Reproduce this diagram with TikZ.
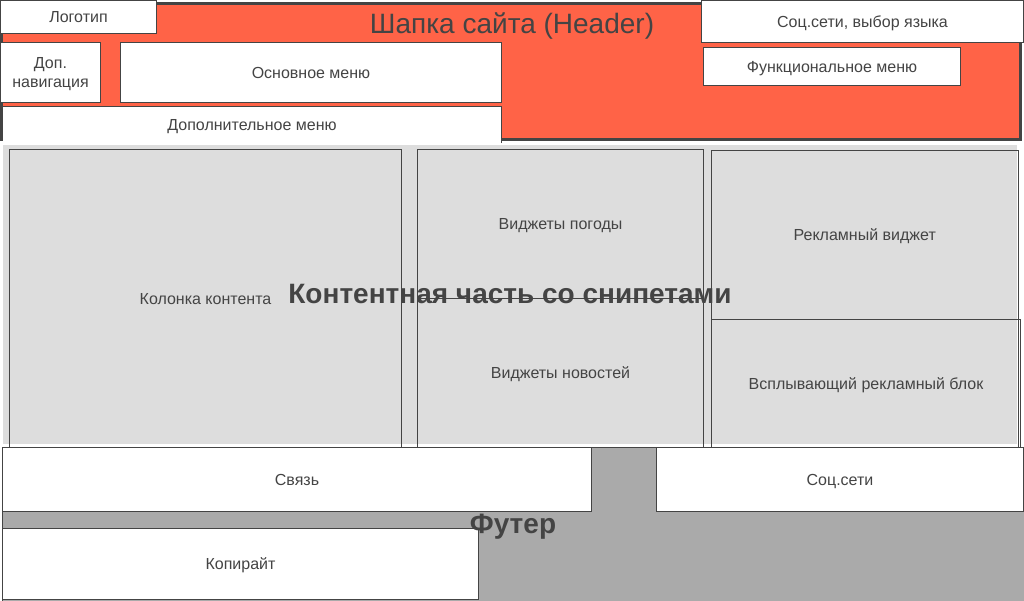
\documentclass[tikz,border=0pt]{standalone}
\usepackage{fontspec}
\setmainfont{Liberation Sans}
\definecolor{ink}{HTML}{444444}
\definecolor{headred}{HTML}{FF6347}
\definecolor{bodygray}{HTML}{DDDDDD}
\definecolor{footgray}{HTML}{AAAAAA}
% rectangle node from its corners: style, name, x1, y1, x2, y2, text
\newcommand{\rectnode}[7]{\node[#1, minimum width={#5-#3}, minimum height={#6-#4}] (#2) at ({(#3+#5)/2},{(#4+#6)/2}) {#7};}
\begin{document}
\begin{tikzpicture}[x=1pt,y=-1pt,
  lbl/.style={text=ink, font=\fontsize{16}{19}\selectfont, align=center, text height=14.5pt, text depth=3.4pt},
  twolines/.style={text height=33.5pt},
  box/.style={lbl, draw=ink, line width=1pt, fill=white, inner sep=0pt, outer sep=0pt},
  area/.style={lbl, draw=ink, line width=1pt, inner sep=0pt, outer sep=0pt},
  plain/.style={lbl, inner sep=0pt, outer sep=0pt},
  title/.style={text=ink, font=\fontsize{28}{32}\selectfont, inner sep=0pt, text height=25.3pt, text depth=5.9pt},
  btitle/.style={text=ink, font=\bfseries\fontsize{28}{32}\selectfont, inner sep=0pt, text height=25.3pt, text depth=5.9pt}]
\useasboundingbox (0,0) rectangle (1024,600);

% header
\rectnode{draw=ink, line width=3pt, fill=headred, inner sep=0pt, outer sep=0pt}{header}{1.5}{3.5}{1020.5}{139.5}{}
\node[title] (htitle) at (512,24) {Шапка сайта (Header)};
\rectnode{box}{logo}{0.5}{0.5}{156.5}{33}{Логотип}
\rectnode{box, twolines}{dopnav}{0.5}{42.5}{100.5}{102.5}{Доп.\\навигация}
\rectnode{box}{mainmenu}{120.5}{42.5}{501.5}{102.5}{Основное меню}
\rectnode{plain, fill=white}{dopmenu}{2.5}{106.5}{501.5}{143}{Дополнительное меню}
\draw[ink, line width=1pt] (dopmenu.south east) -- (dopmenu.north east) -- (dopmenu.north west);
\rectnode{box}{social}{701.5}{0.5}{1023.5}{42.5}{Соц.сети, выбор языка}
\rectnode{box}{funcmenu}{703.5}{47.5}{960.5}{85.5}{Функциональное меню}

% content
\rectnode{plain, fill=bodygray}{content}{3}{145}{1017}{444}{}
\rectnode{area}{column}{9.5}{149.5}{401.5}{448}{Колонка контента}
\rectnode{area}{weather}{417.5}{149.5}{703.5}{298.5}{Виджеты погоды}
\rectnode{area}{news}{417.5}{298.5}{703.5}{448}{Виджеты новостей}
\rectnode{area}{adwidget}{711.5}{150}{1018}{448}{}
\node[lbl] (adlabel) at (adwidget.center |- 0,234.5) {Рекламный виджет};
\rectnode{area}{popup}{711.5}{319.5}{1020.5}{448}{Всплывающий рекламный блок}
\node[btitle] (ctitle) at (510,294) {Контентная часть со снипетами};

% footer
\rectnode{draw=ink, line width=1pt, fill=footgray, inner sep=0pt, outer sep=0pt}{footer}{2.5}{447.5}{1030}{610}{}
\rectnode{box}{contact}{2.5}{447.5}{591.5}{511.5}{Связь}
\rectnode{box}{footsocial}{656.5}{447.5}{1023.5}{511.5}{Соц.сети}
\rectnode{box}{copyright}{2.5}{528.5}{478.5}{599.5}{Копирайт}
\node[btitle] (ftitle) at (513,524) {Футер};
\end{tikzpicture}
\end{document}
